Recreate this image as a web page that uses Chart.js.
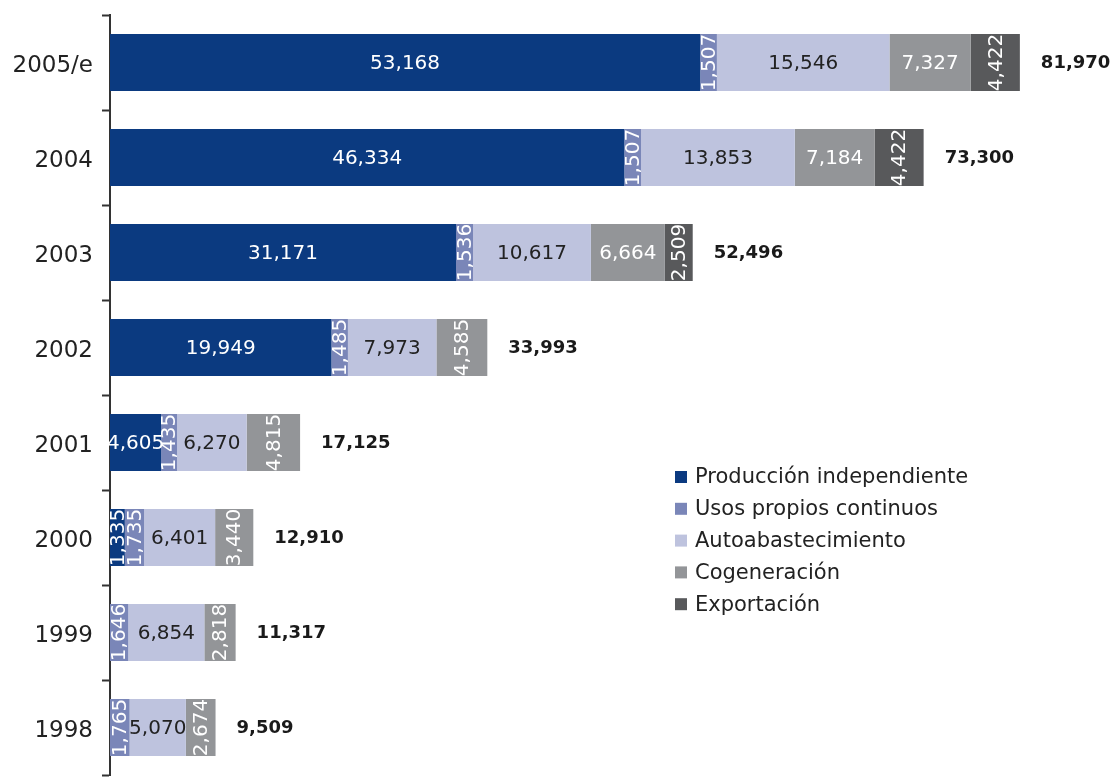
<!DOCTYPE html>
<html>
<head>
<meta charset="utf-8">
<script src="https://cdn.jsdelivr.net/npm/chart.js@4/dist/chart.umd.min.js"></script>
<style>
  html, body { margin: 0; padding: 0; background: #fff; }
  #wrap { width: 1113px; height: 778px; }
</style>
</head>
<body>
<div id="wrap"><canvas id="myChart" width="1113" height="778"></canvas></div>
<script>
const years = ['2005/e', '2004', '2003', '2002', '2001', '2000', '1999', '1998']
const seriesNames = ['Producción independiente', 'Usos propios continuos', 'Autoabastecimiento', 'Cogeneración', 'Exportación']

const produccion = [53168, 46334, 31171, 19949, 4605, 1335, 0, 0]
const usosPropios = [1507, 1507, 1536, 1485, 1435, 1735, 1646, 1765]
const autoabasto = [15546, 13853, 10617, 7973, 6270, 6401, 6854, 5070]
const cogeneracion = [7327, 7184, 6664, 4585, 4815, 3440, 2818, 2674]
const exportacion = [4422, 4422, 2509, 0, 0, 0, 0, 0]
const totals = [81970, 73300, 52496, 33993, 17125, 12910, 11317, 9509]

const colors = ['#0b3a80', '#7a86b8', '#bec3de', '#939598', '#58595b']
const textColors = ['#ffffff', '#ffffff', '#222222', '#ffffff', '#ffffff']

const fmt = (v) => v.toLocaleString('en-US')

// labels inside the segments, rotated when the segment is narrow
const segLabels = {
  id: 'segLabels',
  afterDatasetsDraw(chart) {
    const ctx = chart.ctx
    ctx.save()
    ctx.font = '20px "DejaVu Sans"'
    ctx.textBaseline = 'middle'
    ctx.textAlign = 'center'
    chart.data.datasets.forEach((ds, i) => {
      const meta = chart.getDatasetMeta(i)
      meta.data.forEach((bar, j) => {
        const v = ds.data[j]
        if (!v) return
        const cx = (bar.x + bar.base) / 2
        ctx.fillStyle = textColors[i]
        const rotate = i === 0 ? v < 2000 : v < 5000
        if (rotate) {
          ctx.save()
          ctx.translate(cx, bar.y)
          ctx.rotate(-Math.PI / 2)
          ctx.fillText(fmt(v), 0, 1)
          ctx.restore()
        } else {
          ctx.fillText(fmt(v), cx, bar.y + 1)
        }
      })
    })
    // totals
    ctx.font = 'bold 18px "DejaVu Sans"'
    ctx.textAlign = 'left'
    ctx.fillStyle = '#1a1a1a'
    const last = chart.getDatasetMeta(chart.data.datasets.length - 1).data
    const xs = chart.scales.x
    totals.forEach((t, j) => {
      const end = xs.getPixelForValue(t)
      ctx.fillText(fmt(t), end + 21, last[j].y + 1)
    })
    // legend
    ctx.font = '21px "DejaVu Sans"'
    seriesNames.forEach((name, i) => {
      const y = 477 + i * 31.8
      ctx.fillStyle = colors[i]
      ctx.fillRect(675, y - 6, 12, 12)
      ctx.fillStyle = '#222'
      ctx.fillText(name, 695, y + 1)
    })
    ctx.restore()
  }
}

const seriesValues = [produccion, usosPropios, autoabasto, cogeneracion, exportacion]

const config = {
  type: 'bar',
  data: {
    labels: years,
    datasets: seriesNames.map((name, i) => ({
      label: name,
      data: seriesValues[i],
      backgroundColor: colors[i],
      borderWidth: 0,
      barPercentage: 0.6,
      categoryPercentage: 1
    }))
  },
  options: {
    indexAxis: 'y',
    responsive: false,
    animation: false,
    layout: { padding: { top: 15, bottom: 3, right: 4, left: 0 } },
    scales: {
      x: {
        stacked: true,
        display: false,
        min: 0,
        max: 90000
      },
      y: {
        stacked: true,
        afterFit: (scale) => {
          scale.width = 110
          scale.paddingTop = 0
          scale.paddingBottom = 0
        },
        border: { display: true, color: '#333', width: 2 },
        grid: {
          display: true,
          offset: true,
          drawOnChartArea: false,
          drawTicks: true,
          tickLength: 8,
          tickWidth: 2,
          tickColor: '#333'
        },
        ticks: {
          color: '#222',
          padding: 9,
          labelOffset: 4,
          font: { family: 'DejaVu Sans', size: 23 }
        }
      }
    },
    plugins: {
      legend: { display: false },
      tooltip: { enabled: false }
    }
  },
  plugins: [segLabels]
}

const myChart = new Chart(document.getElementById('myChart'), config)
</script>
</body>
</html>
